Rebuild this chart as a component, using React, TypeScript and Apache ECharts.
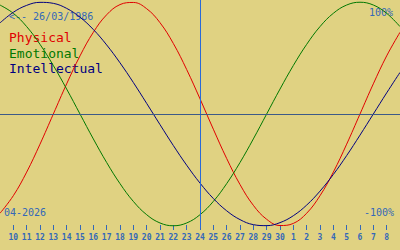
import React, { useEffect, useRef } from "react";
import * as echarts from "echarts";

// Day labels for ticks at day offsets 1..29 (10 April .. 8 May 2026)
const TICK_LABELS = [
  "10", "11", "12", "13", "14", "15", "16", "17", "18", "19", "20", "21", "22", "23", "24",
  "25", "26", "27", "28", "29", "30", "1", "2", "3", "4", "5", "6", "7", "8",
];
// Values per day offset 0..30 (9 April .. 9 May)
const PHYSICAL = [
  -0.888, -0.731, -0.52, -0.27, 0, 0.27, 0.52, 0.731, 0.888, 0.979, 0.998, 0.942, 0.817, 0.631, 0.398,
  0.136, -0.136, -0.398, -0.631, -0.817, -0.942, -0.998, -0.979, -0.888, -0.731, -0.52, -0.27, 0, 0.27,
  0.52, 0.731,
];
const EMOTIONAL = [
  0.975, 0.901, 0.782, 0.623, 0.434, 0.223, 0, -0.223, -0.434, -0.623, -0.782, -0.901, -0.975, -1,
  -0.975, -0.901, -0.782, -0.623, -0.434, -0.223, 0, 0.223, 0.434, 0.623, 0.782, 0.901, 0.975, 1, 0.975,
  0.901, 0.782,
];
const INTELLECTUAL = [
  0.815, 0.91, 0.972, 0.999, 0.99, 0.945, 0.866, 0.756, 0.618, 0.458, 0.282, 0.095, -0.095, -0.282,
  -0.458, -0.618, -0.756, -0.866, -0.945, -0.99, -0.999, -0.972, -0.91, -0.815, -0.69, -0.541, -0.372,
  -0.189, 0, 0.189, 0.372,
];
const SERIES_NAMES = ["Physical", "Emotional", "Intellectual"];
const TODAY = 15;
const BIRTH_LABEL = "<-- 26/03/1986";
const MONTH_LABEL = "04-2026";
const TOP_LABEL = "100%";
const BOTTOM_LABEL = "-100%";

const BG = "#e0d282";
const BLUE = "#3468b8";
const COLORS = ["#e00000", "#007800", "#000080"];
const FONT = "DejaVu Sans Mono";

export default function App() {
  const ref = useRef<HTMLDivElement>(null);
  useEffect(() => {
    if (!ref.current) return;
    const chart = echarts.init(ref.current, undefined, { renderer: "svg" });
    const toPairs = (arr: number[]) => arr.map((v, i) => [i, v]);
    const lines = [PHYSICAL, EMOTIONAL, INTELLECTUAL].map((arr, i) => ({
      name: SERIES_NAMES[i],
      type: "line",
      data: toPairs(arr),
      smooth: 0.4,
      showSymbol: false,
      lineStyle: { color: COLORS[i], width: 1 },
      z: 3,
    }));
    (lines[0] as any).markLine = {
      silent: true,
      symbol: "none",
      label: { show: false },
      data: [
        { xAxis: TODAY, lineStyle: { color: "#2a6ad8", width: 1, type: "solid" } },
        { yAxis: 0, lineStyle: { color: "#3c5a88", width: 1, type: "solid" } },
      ],
    };
    chart.setOption({
      animation: false,
      backgroundColor: BG,
      grid: { left: 0, right: 0, top: 0, bottom: 22 },
      xAxis: {
        type: "value",
        min: 0,
        max: 30,
        interval: 1,
        offset: -3,
        axisLine: { show: false, onZero: false },
        splitLine: { show: false },
        axisTick: { show: true, length: 5, lineStyle: { color: BLUE, width: 1 } },
        axisLabel: {
          color: BLUE,
          fontFamily: FONT,
          fontSize: 8,
          fontWeight: "bold",
          margin: 8,
          showMinLabel: false,
          showMaxLabel: false,
          formatter: (v: number) => TICK_LABELS[v - 1] ?? "",
        },
      },
      yAxis: {
        type: "value",
        min: -1.02,
        max: 1.02,
        show: false,
      },
      series: lines,
      graphic: [
        { type: "text", left: 9, top: 11, style: { text: BIRTH_LABEL, fill: BLUE, font: `10px '${FONT}'` } },
        { type: "text", right: 7, top: 7, style: { text: TOP_LABEL, fill: BLUE, font: `10px '${FONT}'` } },
        { type: "text", right: 6, top: 207, style: { text: BOTTOM_LABEL, fill: BLUE, font: `10px '${FONT}'` } },
        { type: "text", left: 4, top: 207, style: { text: MONTH_LABEL, fill: BLUE, font: `10px '${FONT}'` } },
        ...SERIES_NAMES.map((n, i) => ({
          type: "text",
          left: 9,
          top: 31 + i * 15.5,
          style: { text: n, fill: COLORS[i], font: `13px '${FONT}'` },
        })),
      ],
    });
    return () => chart.dispose();
  }, []);
  return (
    <div
      ref={ref}
      style={{ position: "fixed", left: 0, top: 0, width: 400, height: 250 }}
    />
  );
}
